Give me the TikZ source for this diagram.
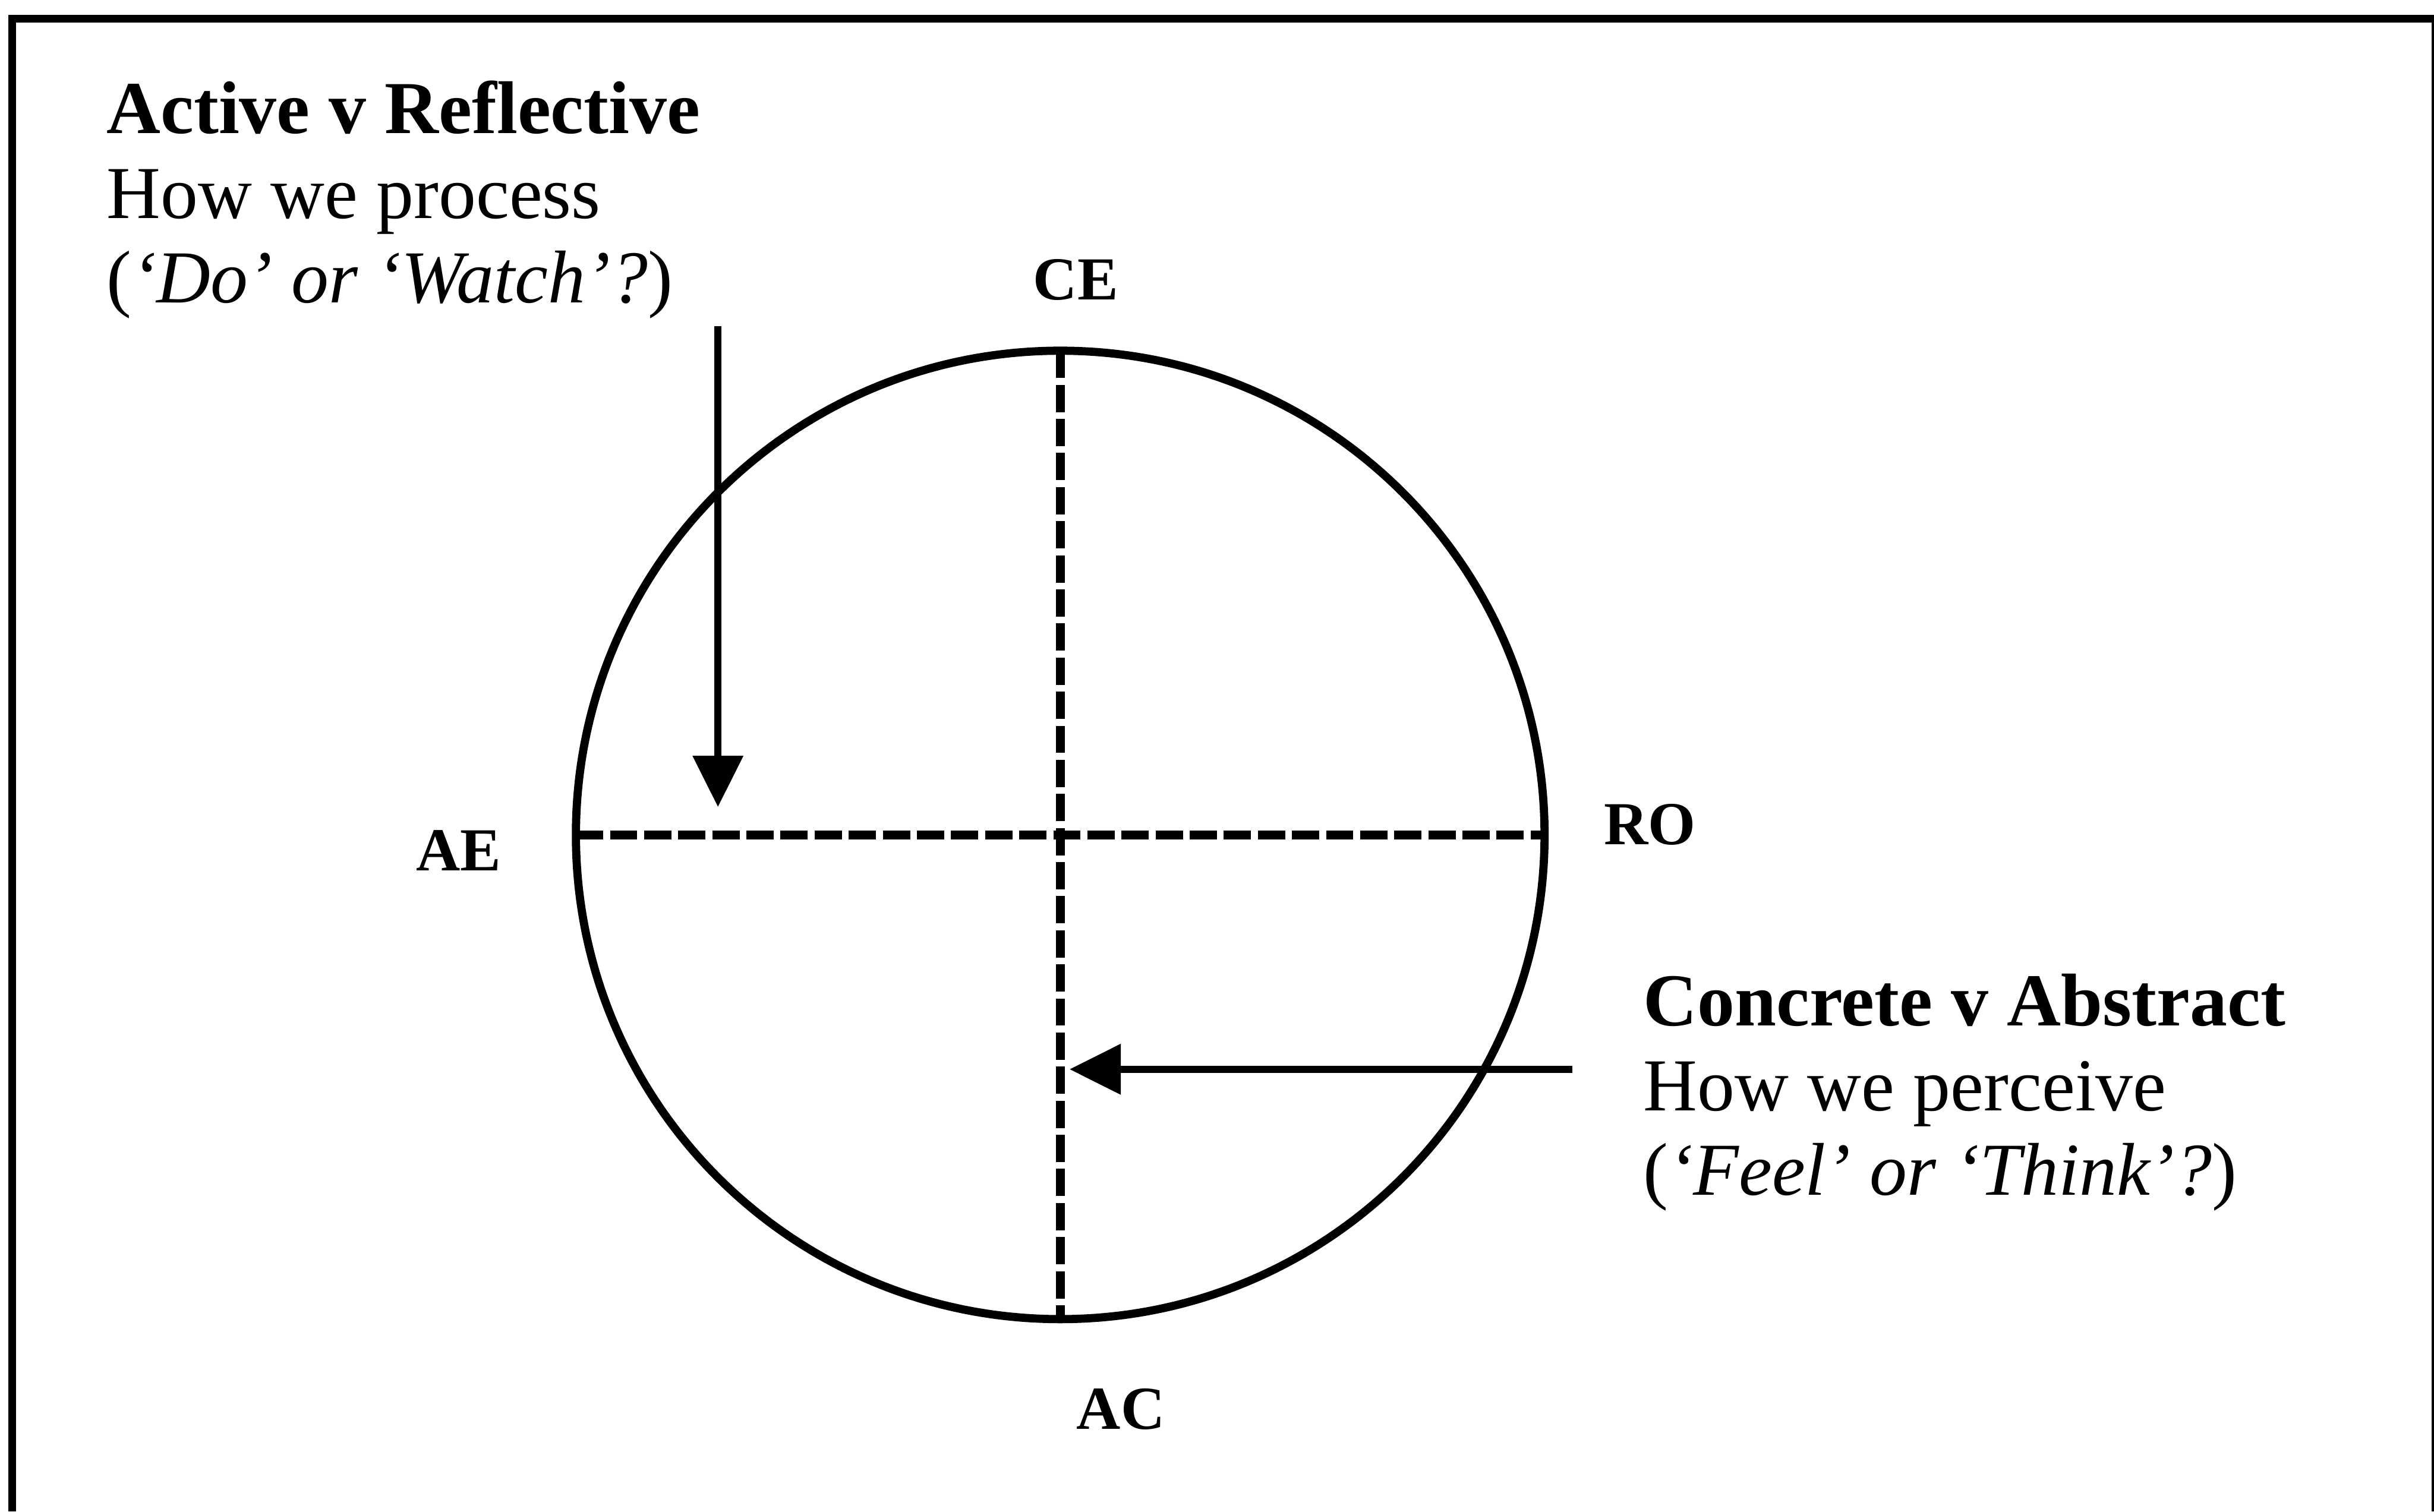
\documentclass[tikz,border=0pt]{standalone}
\usepackage{fontspec}
\setmainfont{Liberation Serif}
\usetikzlibrary{arrows.meta,positioning}
\tikzset{
  frame/.style={line width=1.4pt, draw=black},
  cycle/.style={circle, draw=black, line width=1.5pt, minimum size=6.24cm,
                inner sep=0pt, outer sep=0pt},
  axis/.style={line width=1.6pt, dash pattern=on 5pt off 1.25pt},
  pole/.style={font=\fontsize{11.2}{13}\selectfont\bfseries, inner sep=0pt},
  blurb/.style={align=left, inner sep=0pt, font=\fontsize{13.7}{15.5}\selectfont},
  arrow/.style={-{Triangle[length=9.4pt,width=9pt]}, line width=1.35pt}
}
\begin{document}
\begin{tikzpicture}
\useasboundingbox (0,0) rectangle (15.68,9.74);
% open frame round the figure
\draw[frame] (0.079,0) -- (0.079,9.62) -- (15.69,9.62) -- (15.69,0);
% learning cycle
\node[cycle] (cyc) at (6.83,4.36) {};
\draw[axis] (cyc.north) -- (cyc.south);
\draw[axis] (cyc.west) -- (cyc.east);
% the four poles
\node[pole, anchor=base] (ce) at (6.93,7.81) {CE};
\node[pole, anchor=base] (ae) at (2.955,4.13) {AE};
\node[pole, anchor=base] (ro) at (10.63,4.30) {RO};
\node[pole, anchor=base] (ac) at (7.22,0.53) {AC};
% the two dimensions (base = last line)
\node[blurb, anchor=base west] (process) at (0.68,7.79)
  {\textbf{Active v Reflective}\\How we process\\(\textit{‘Do’ or ‘Watch’?})};
\node[blurb, anchor=base west] (perceive) at (10.58,2.04)
  {\textbf{Concrete v Abstract}\\How we perceive\\(\textit{‘Feel’ or ‘Think’?})};
\coordinate (procfrom) at (4.625,7.64);
\coordinate (procto) at (4.625,4.54);
\coordinate (percfrom) at (10.13,2.85);
\coordinate (percto) at (6.89,2.85);
\draw[arrow] (procfrom) -- (procto);
\draw[arrow] (percfrom) -- (percto);
\end{tikzpicture}
\end{document}
